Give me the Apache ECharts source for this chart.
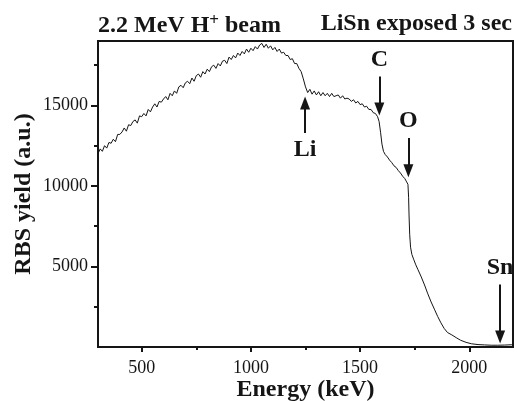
<!DOCTYPE html>
<html>
<head>
<meta charset="utf-8">
<script src="https://cdn.jsdelivr.net/npm/echarts@6/dist/echarts.min.js"></script>
<style>
    html, body { margin: 0; padding: 0; background: #fff; }
    #chart { width: 517px; height: 401px; }
</style>
</head>
<body>
<div id="chart"></div>
<script>
// RBS spectrum, energy in keV
var energy = [
    300, 310, 320, 330, 340, 350, 360, 370, 380, 390, 400, 410, 420, 430, 440, 450, 460, 470, 480, 490,
    500, 510, 520, 530, 540, 550, 560, 570, 580, 590, 600, 610, 620, 630, 640, 650, 660, 670, 680, 690,
    700, 710, 720, 730, 740, 750, 760, 770, 780, 790, 800, 810, 820, 830, 840, 850, 860, 870, 880, 890,
    900, 910, 920, 930, 940, 950, 960, 970, 980, 990, 1000, 1010, 1020, 1030, 1040, 1050, 1060, 1070, 1080, 1090,
    1100, 1110, 1120, 1130, 1140, 1150, 1160, 1170, 1180, 1190, 1200, 1210, 1220, 1230, 1240, 1250, 1260, 1270, 1280, 1290,
    1300, 1310, 1320, 1330, 1340, 1350, 1360, 1370, 1380, 1390, 1400, 1410, 1420, 1430, 1440, 1450, 1460, 1470, 1480, 1490,
    1500, 1510, 1520, 1530, 1540, 1550, 1560, 1570, 1580, 1587, 1594, 1600, 1607, 1615, 1625, 1635, 1645, 1655, 1665, 1675,
    1685, 1695, 1705, 1713, 1719, 1722, 1724, 1727, 1731, 1737, 1745, 1755, 1765, 1780, 1795, 1810, 1825, 1840, 1855, 1870,
    1885, 1900, 1920, 1940, 1960, 1985, 2010, 2040, 2070, 2100, 2130, 2160, 2195
]
var rbsYield = [
    12000, 12300, 12150, 12500, 12350, 12700, 12650, 12900, 12750, 13200, 13200, 13350, 13600, 13400, 13800, 13750, 14000, 14100, 13900, 14350,
    14300, 14500, 14350, 14750, 14600, 14900, 15100, 14900, 15250, 15200, 15400, 15550, 15350, 15750, 15600, 15900, 15750, 16150, 16250, 16100,
    16400, 16500, 16350, 16700, 16500, 16850, 16950, 16750, 17100, 16950, 17250, 17100, 17400, 17500, 17300, 17600, 17450, 17750, 17800, 17600,
    18000, 17850, 18100, 17950, 18250, 18100, 18350, 18200, 18500, 18300, 18550, 18400, 18650, 18500, 18750, 18850, 18600, 18800, 18550, 18700,
    18450, 18600, 18350, 18500, 18250, 18300, 18100, 18100, 17850, 17900, 17600, 17600, 17300, 17100, 16650, 16150, 15800, 16000, 15700, 15900,
    15650, 15850, 15600, 15800, 15600, 15750, 15550, 15750, 15550, 15600, 15650, 15450, 15600, 15400, 15450, 15400, 15250, 15350, 15150, 15250,
    15050, 15100, 14900, 14950, 14750, 14750, 14550, 14500, 14300, 14000, 13300, 12600, 12150, 11950, 11800, 11600, 11450, 11250, 11150, 10950,
    10800, 10600, 10450, 10250, 10100, 9300, 8200, 7000, 6200, 5750, 5450, 5100, 4800, 4350, 3850, 3300, 2800, 2350, 1900, 1500,
    1150, 900, 750, 580, 420, 290, 200, 150, 130, 110, 110, 120, 140
]

var xTicks = [500, 1000, 1500, 2000]
var xMinorTicks = [750, 1250, 1750]
var yTicks = [5000, 10000, 15000]
var yMinorTicks = [2500, 7500, 12500, 17500]

// element edges: arrow from -> to (yield values)
var markers = [
    { name: 'Li', energy: 1248, from: 13280, to: 15150 },
    { name: 'C', energy: 1588, from: 16790, to: 14780 },
    { name: 'O', energy: 1721, from: 12970, to: 10950 },
    { name: 'Sn', energy: 2141, from: 3875, to: 620 },
]

var serif = '"Liberation Serif", "Times New Roman", serif'
var ink = '#151515'
var plain = function(v) { return String(v) }

var chart = echarts.init(document.getElementById('chart'))
var option = {
    animation: false,
    title: [
        {
            text: '2.2 MeV H{sup|+} beam',
            left: 98,
            top: 12,
            padding: 0,
            textStyle: {
                fontFamily: serif,
                fontWeight: 'bold',
                fontSize: 24,
                color: ink,
                rich: {
                    sup: { fontFamily: serif, fontWeight: 'bold', fontSize: 17, color: ink, padding: [0, 0, 10, 0] },
                },
            },
        },
        {
            text: 'LiSn exposed 3 sec',
            right: 5,
            top: 12,
            padding: 0,
            textStyle: { fontFamily: serif, fontWeight: 'bold', fontSize: 24, color: ink },
        },
    ],
    grid: {
        left: 98,
        right: 4,
        top: 41,
        bottom: 54,
        outerBoundsMode: 'none',
        show: true,
        borderColor: ink,
        borderWidth: 2,
    },
    xAxis: [
        {
            type: 'value',
            min: 300,
            max: 2200,
            name: 'Energy (keV)',
            nameLocation: 'middle',
            nameGap: 31,
            nameMoveOverlap: false,
            nameTextStyle: { fontFamily: serif, fontWeight: 'bold', fontSize: 24, color: ink },
            axisLine: { lineStyle: { color: ink, width: 2 } },
            axisTick: { customValues: xTicks, length: 5, lineStyle: { color: ink, width: 2 } },
            axisLabel: { customValues: xTicks, formatter: plain, margin: 12, fontFamily: serif, fontSize: 18, color: ink },
            splitLine: { show: false },
        },
        {
            // minor ticks
            type: 'value',
            min: 300,
            max: 2200,
            position: 'bottom',
            axisLine: { show: false },
            axisTick: { customValues: xMinorTicks, length: 3, lineStyle: { color: ink, width: 2 } },
            axisLabel: { show: false },
            splitLine: { show: false },
        },
    ],
    yAxis: [
        {
            type: 'value',
            min: 0,
            max: 19000,
            name: 'RBS yield (a.u.)',
            nameLocation: 'middle',
            nameGap: 62,
            nameMoveOverlap: false,
            nameTextStyle: { fontFamily: serif, fontWeight: 'bold', fontSize: 24, color: ink },
            axisLine: { show: true, lineStyle: { color: ink, width: 2 } },
            axisTick: { show: true, customValues: yTicks, length: 7, lineStyle: { color: ink, width: 2 } },
            axisLabel: { customValues: yTicks, formatter: plain, margin: 10, fontFamily: serif, fontSize: 18, color: ink },
            splitLine: { show: false },
        },
        {
            type: 'value',
            min: 0,
            max: 19000,
            position: 'left',
            axisLine: { show: false },
            axisTick: { show: true, customValues: yMinorTicks, length: 4, lineStyle: { color: ink, width: 2 } },
            axisLabel: { show: false },
            splitLine: { show: false },
        },
    ],
    series: [
        {
            type: 'line',
            data: energy.map(function(e, i) { return [e, rbsYield[i]] }),
            showSymbol: false,
            lineStyle: { color: ink, width: 1 },
            markLine: {
                silent: true,
                animation: false,
                symbol: ['none', 'triangle'],
                symbolSize: [10, 13],
                lineStyle: { color: ink, width: 2, type: 'solid' },
                label: {
                    show: true,
                    position: 'start',
                    formatter: '{b}',
                    distance: 5,
                    fontFamily: serif,
                    fontWeight: 'bold',
                    fontSize: 24,
                    color: ink,
                },
                data: markers.map(function(m) {
                    return [{ name: m.name, coord: [m.energy, m.from] }, { coord: [m.energy, m.to] }]
                }),
            },
        },
    ],
}
chart.setOption(option)
</script>
</body>
</html>
